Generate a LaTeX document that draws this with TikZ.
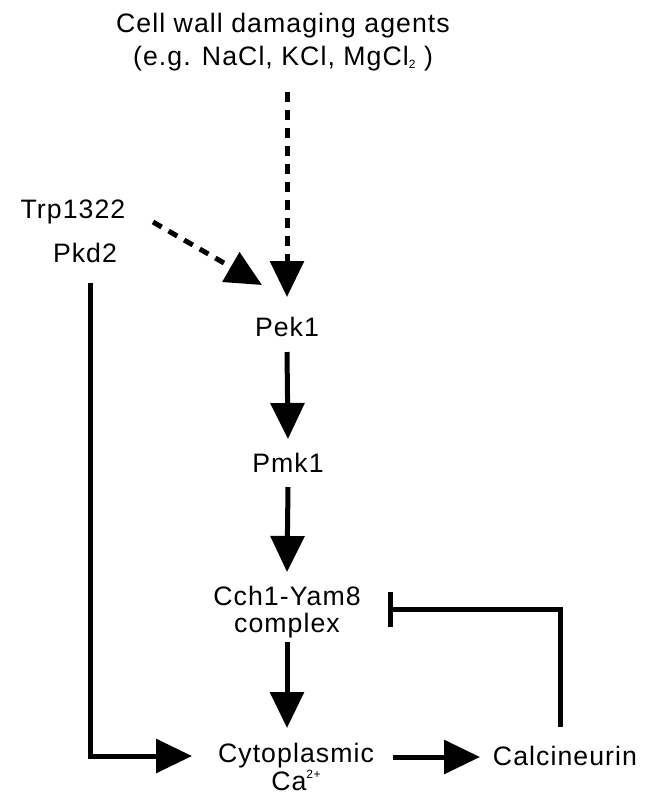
\documentclass[tikz,border=0pt]{standalone}
\usepackage{fontspec}
\setmainfont{Liberation Sans}[LetterSpace=4]
\usetikzlibrary{arrows.meta}

\tikzset{every picture/.style={line width=0.75pt}}
\tikzset{
  lbl/.style={inner sep=0pt, font=\fontsize{20}{24.75}\selectfont},
  actarrow/.style={line width=3.75pt, -{Triangle[length=27pt,width=25pt]}},
  dasharrow/.style={actarrow, dash pattern=on 7.5pt off 6pt},
  inhibit/.style={line width=3.75pt, -{Bar[width=26.25pt,line width=3.75pt]}}
}
\newcommand{\smallsub}[1]{{\fontsize{9}{9}\selectfont\raisebox{-2.5pt}{#1}}}
\newcommand{\smallsup}[1]{{\fontsize{9}{9}\selectfont\raisebox{9pt}{#1}}}

\begin{document}
\begin{tikzpicture}[x=0.75pt,y=0.75pt,yscale=-1,xscale=1]
    \useasboundingbox (0,0) rectangle (663,800);

    % Text Node
    \node (agents) [lbl, anchor=base, align=center] at (283,65) {Cell wall damaging agents\\(e.g. NaCl, KCl, MgCl\smallsub{2} )};
    % Text Node
    \node (trp) [lbl, anchor=base] at (73,218) {Trp1322};
    % Text Node
    \node (pkd) [lbl, anchor=base] at (85,262) {Pkd2};
    % Text Node
    \node (pek) [lbl, anchor=base] at (287,336) {Pek1};
    % Text Node
    \node (pmk) [lbl, anchor=base] at (288,472) {Pmk1};
    % Text Node
    \node (cch) [lbl, anchor=base, align=center, font=\fontsize{20}{20.25}\selectfont] at (287,632) {Cch1-Yam8\\complex};
    % Text Node
    \node (cyt) [lbl, anchor=base, align=center, font=\fontsize{20}{18.75}\selectfont] at (296,790) {Cytoplasmic\\Ca\smallsup{2+}};
    % Text Node
    \node (cal) [lbl, anchor=base] at (565,765) {Calcineurin};

    %Dashed Lines
    \draw [dasharrow] ([yshift=20.25pt]pek.base |- agents.base) -- ([yshift=-29.25pt]pek.base);
    \draw [dasharrow] ([xshift=60pt,yshift=3pt]trp.base) -- ([xshift=-18.75pt,yshift=-38.25pt]pek.base);
    %Straight Lines
    \draw [actarrow] ([yshift=12pt]pek.base) -- ([yshift=-24.75pt]pmk.base);
    \draw [actarrow] ([yshift=11.25pt]pmk.base) -- ([yshift=-45pt]cch.base);
    \draw [actarrow] ([yshift=7.5pt]cch.base) -- ([xshift=-6.75pt,yshift=-46.5pt]cyt.base);
    \draw [actarrow] ([xshift=3.75pt,yshift=15.75pt]pkd.base) |- ([xshift=-78pt,yshift=-25.5pt]cyt.base);
    \draw [actarrow] ([xshift=72.75pt,yshift=-24.75pt]cyt.base) -- ([xshift=-63.75pt,yshift=-6pt]cal.base);
    \draw [inhibit] ([xshift=-3.75pt,yshift=-28.5pt]cal.base) |- ([xshift=75.75pt,yshift=-17.25pt]cch.base);

\end{tikzpicture}
\end{document}
